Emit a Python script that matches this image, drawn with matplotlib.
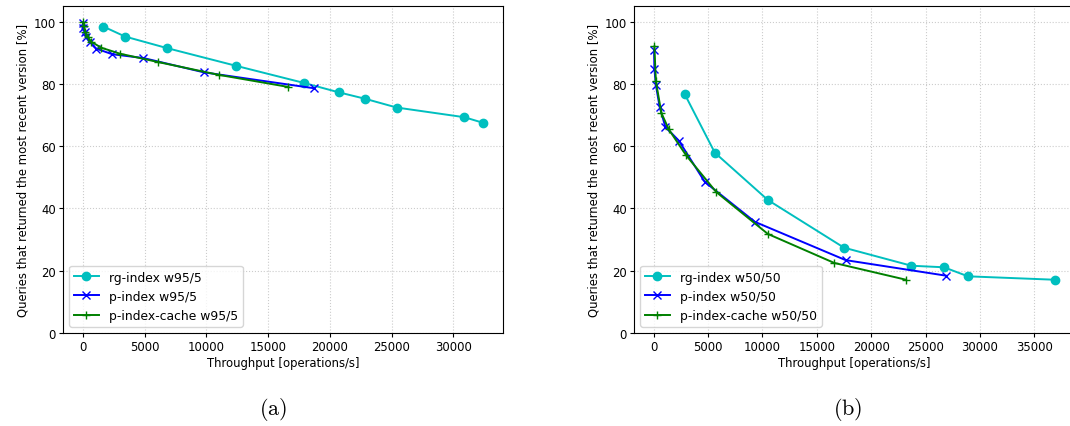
import numpy as np
import matplotlib
matplotlib.use('Agg')
import matplotlib.pyplot as plt

plt.rcParams['mathtext.fontset'] = 'cm'

# ---------------- data ----------------
# (a) w95/5
rg95_x = [1670, 3420, 6800, 12400, 17900, 20700, 22860, 25400, 30870, 32390]
rg95_y = [98.4, 95.2, 91.5, 85.8, 80.3, 77.3, 75.2, 72.4, 69.3, 67.5]

p95_x = [20, 50, 150, 300, 550, 1100, 2400, 4900, 9800, 18700]
p95_y = [99.6, 98.0, 96.5, 95.0, 93.5, 91.3, 89.5, 88.3, 83.7, 78.6]

pc95_x = [30, 80, 200, 400, 700, 1500, 3000, 6100, 11000, 16650]
pc95_y = [99.8, 98.5, 96.5, 95.0, 93.5, 91.6, 89.7, 87.0, 82.9, 79.0]

# (b) w50/50
rg50_x = [2850, 5620, 10500, 17500, 23700, 26700, 28900, 36900]
rg50_y = [76.7, 57.9, 42.7, 27.4, 21.6, 21.1, 18.2, 17.1]

p50_x = [30, 60, 200, 550, 1070, 2300, 4700, 9300, 17650, 26900]
p50_y = [91.0, 84.9, 79.6, 72.5, 66.2, 61.8, 48.5, 35.7, 23.4, 18.4]

pc50_x = [60, 200, 700, 1380, 2970, 5740, 10500, 16600, 23200]
pc50_y = [92.0, 80.8, 70.7, 65.4, 57.1, 45.3, 31.8, 22.5, 17.1]

fs = 8.4

fig = plt.figure(figsize=(10.7, 4.27), dpi=100)
W, H = 1070.0, 427.0
ax1 = fig.add_axes([63 / W, (H - 334) / H, 440 / W, 327 / H])
ax2 = fig.add_axes([634 / W, (H - 334) / H, 441 / W, 327 / H])

def panel(ax, rx, ry, px, py, cx, cy, tag):
    ax.plot(rx, ry, 'c-o', markersize=6, linewidth=1.4, label='rg-index ' + tag)
    ax.plot(px, py, 'b-x', markersize=6, linewidth=1.4, label='p-index ' + tag)
    ax.plot(cx, cy, 'g-+', markersize=6, linewidth=1.4, label='p-index-cache ' + tag)
    ax.set_ylim(0, 105)
    ax.grid(True, linestyle=':', color='#cccccc', linewidth=0.8)
    ax.set_xlabel('Throughput [operations/s]', fontsize=fs, labelpad=2)
    ax.set_ylabel('Queries that returned the most recent version [%]', fontsize=fs, labelpad=3)
    ax.tick_params(labelsize=fs, length=3, pad=2)
    ax.legend(loc='lower left', fontsize=fs + 0.5)

panel(ax1, rg95_x, rg95_y, p95_x, p95_y, pc95_x, pc95_y, 'w95/5')
panel(ax2, rg50_x, rg50_y, p50_x, p50_y, pc50_x, pc50_y, 'w50/50')
ax1.set_xticks([0, 5000, 10000, 15000, 20000, 25000, 30000])
ax2.set_xticks([0, 5000, 10000, 15000, 20000, 25000, 30000, 35000])

fig.text(273 / W, 1 - 410 / H, r'$\mathrm{(a)}$', fontsize=16, ha='center', va='center')
fig.text(848 / W, 1 - 410 / H, r'$\mathrm{(b)}$', fontsize=16, ha='center', va='center')

fig.savefig('out.png', dpi=100)
